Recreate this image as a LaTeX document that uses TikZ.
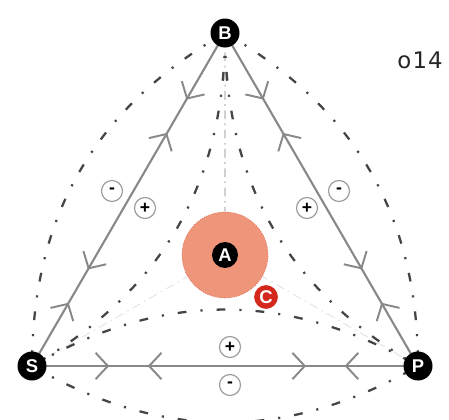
\documentclass[tikz,border=0pt]{standalone}
\usepackage{fontspec}
\setmainfont{Liberation Sans}
\newfontfamily\tagfont[LetterSpace=5]{DejaVu Sans}
\usetikzlibrary{arrows.meta, positioning, calc, backgrounds, decorations.markings}
\definecolor{edgegray}{HTML}{888888}
\definecolor{arcgray}{HTML}{454545}
\definecolor{salmon}{HTML}{EE957A}
\definecolor{salmonline}{HTML}{DD6A55}
\definecolor{tagred}{HTML}{D5281D}
\tikzset{
  vtx/.style={circle, fill=black, text=white, inner sep=0pt, minimum size=0.58cm,
    font=\bfseries\fontsize{10.5}{10.5}\selectfont},
  sgn/.style={circle, draw=gray!75, line width=0.7pt, inner sep=0pt, minimum size=0.42cm,
    font=\bfseries\fontsize{10}{10}\selectfont},
  chev/.tip={Straight Barb[length=7pt, width=15pt, line width=1.1pt]},
  side/.style={draw=edgegray, line width=1.2pt, postaction={decorate},
    decoration={markings,
      mark=at position 0.2 with {\arrow{chev}},
      mark=at position 0.3 with {\arrowreversed{chev}},
      mark=at position 0.71 with {\arrow{chev}},
      mark=at position 0.81 with {\arrowreversed{chev}}}},
  outline/.style={draw=arcgray, line width=1.3pt, dash pattern=on 5pt off 8pt on 1.2pt off 8pt},
  median/.style={draw=gray!#1, line width=0.6pt, dash pattern=on 5pt off 2.5pt on 1pt off 2.5pt},
}

\begin{document}
\begin{tikzpicture}[x=0.02cm, y=-0.02cm]
  \useasboundingbox (0,0) rectangle (449,419);
  % corners
  \node[vtx] (B) at (225,33) {B};
  \node[vtx] (S) at (32,366) {S};
  \node[vtx] (P) at (418,366) {P};
  % centre
  \node[circle, fill=salmon, draw=salmonline, densely dotted, minimum size=1.72cm] (halo)
    at (barycentric cs:B=1,S=1,P=1) {};
  \node[vtx, minimum size=0.52cm] (A) at (halo.center) {A};
  \node[circle, fill=tagred, draw=white, line width=0.6pt, text=white, inner sep=0pt,
    minimum size=0.5cm, font=\bfseries\fontsize{10.5}{10.5}\selectfont] (C) at (266,297) {C};
  % signs
  \node[sgn] (lm) at (112,191) {-};
  \node[sgn] (lp) at (145,208) {+};
  \node[sgn] (rp) at (307,208) {+};
  \node[sgn] (rm) at (339,191) {-};
  \node[sgn] (bp) at (230,347) {+};
  \node[sgn] (bm) at (230,385) {-};
  \node[anchor=east, font=\tagfont\fontsize{13}{13}\selectfont, text=black!85] (tag) at (449,60) {o14};

  \begin{scope}[on background layer]
    \draw[median=55] (B.center) -- (halo);
    \draw[median=20] (S.center) -- (halo);
    \draw[median=20] (P.center) -- (halo);
    \draw[outline] (B.center) to[bend right=30] (S.center);
    \draw[outline] (B.center) to[bend left=30] (P.center);
    \draw[outline] (S.center) to[bend right=30] (P.center);
    \draw[outline] (B.center) to[bend left=30] (S.center);
    \draw[outline] (B.center) to[bend right=30] (P.center);
    \draw[outline] (S.center) to[bend left=30] (P.center);
    \draw[side] (B.center) -- (S.center);
    \draw[side] (B.center) -- (P.center);
    \draw[side] (S.center) -- (P.center);
  \end{scope}
\end{tikzpicture}
\end{document}
